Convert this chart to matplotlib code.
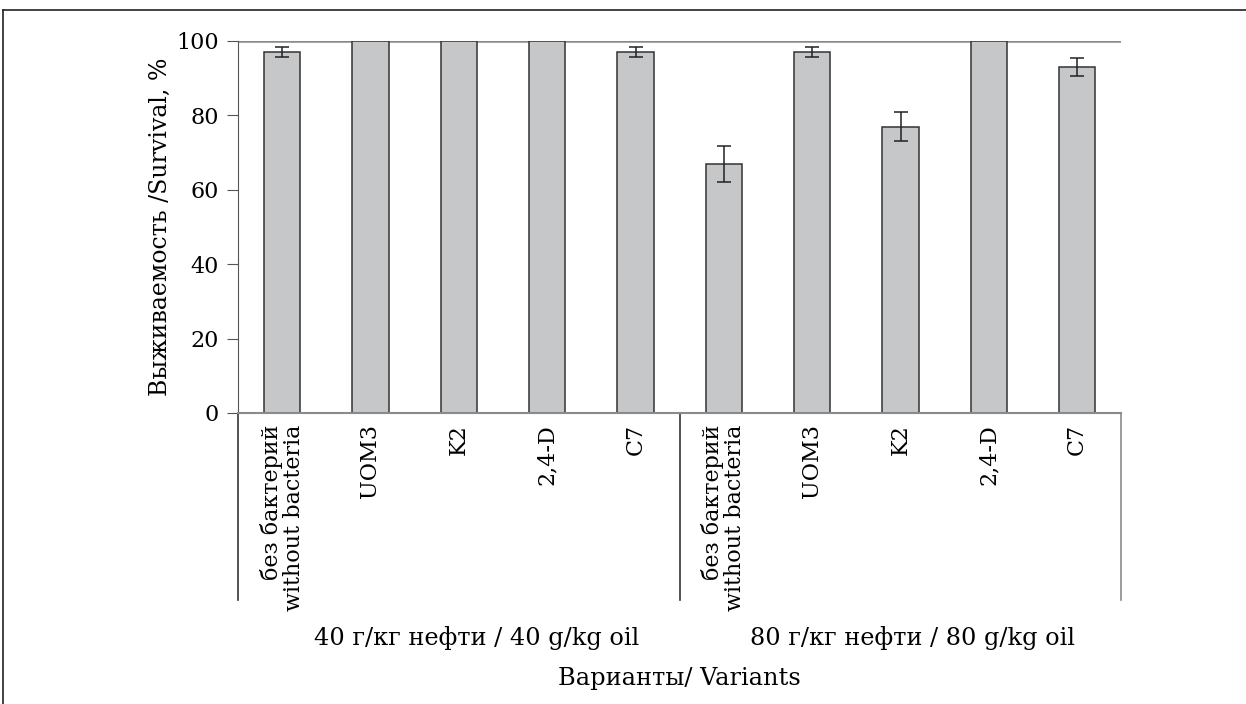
import matplotlib.pyplot as plt
from matplotlib.lines import Line2D

plt.rcParams['font.family'] = ['DejaVu Serif']

labels = ["без бактерий\nwithout bacteria", "UOM3", "K2", "2,4-D", "C7",
          "без бактерий\nwithout bacteria", "UOM3", "K2", "2,4-D", "C7"]
survival = [97, 100, 100, 100, 97, 67, 97, 77, 100, 93]
errors = [1.3, 0, 0, 0, 1.3, 4.8, 1.3, 3.9, 0, 2.3]
groups = ["40 г/кг нефти / 40 g/kg oil", "80 г/кг нефти / 80 g/kg oil"]

fig = plt.figure(figsize=(12.46, 7.04), dpi=100)
ax = fig.add_axes([0.191, 0.4134, 0.709, 0.5284])

x = list(range(len(survival)))
ax.bar(x, survival, width=0.41, color='#c6c7c9', edgecolor='#333333', linewidth=1.1)
ex = [i for i in x if errors[i] > 0]
ax.errorbar(ex, [survival[i] for i in ex], yerr=[errors[i] for i in ex],
            fmt='none', ecolor='#222222', elinewidth=1.1, capsize=5, capthick=1.1)

ax.set_xlim(-0.5, 9.5)
ax.set_ylim(0, 100)
ax.set_yticks([0, 20, 40, 60, 80, 100])
ax.tick_params(axis='y', labelsize=16, length=8, color='#555555', pad=6)
ax.set_xticks([])
ax.axhline(100, color='#8a8a8a', linewidth=1.8, zorder=0)
for s in ['top', 'right']:
    ax.spines[s].set_visible(False)
ax.spines['left'].set_color('#555555')
ax.spines['bottom'].set_color('#8a8a8a')
ax.spines['bottom'].set_linewidth(1.5)

ax.set_ylabel("Выживаемость /Survival, %", fontsize=17, labelpad=3)

trans = ax.get_xaxis_transform()
for i, lab in enumerate(labels):
    ax.text(i, -0.03, lab, rotation=90, ha='center', va='top', fontsize=16,
            multialignment='right', linespacing=1.0, transform=trans)

for xs, c in [(-0.5, '#333333'), (4.5, '#333333'), (9.5, '#8a8a8a')]:
    ax.plot([xs, xs], [0, -0.503], color=c, linewidth=1.2, transform=trans, clip_on=False)

ax.text(2.2, -0.606, groups[0], ha='center', va='center', fontsize=17.3, transform=trans)
ax.text(7.13, -0.606, groups[1], ha='center', va='center', fontsize=17.3, transform=trans)
ax.text(4.5, -0.715, "Варианты/ Variants", ha='center', va='center', fontsize=17.3, transform=trans)

# outer frame (top and left)
fig.add_artist(Line2D([0.0025, 1.0], [1 - 10 / 704, 1 - 10 / 704], color='#222222', linewidth=1.2))
fig.add_artist(Line2D([0.0025, 0.0025], [0, 1 - 10 / 704], color='#222222', linewidth=1.2))

fig.savefig("out.png", dpi=100)
